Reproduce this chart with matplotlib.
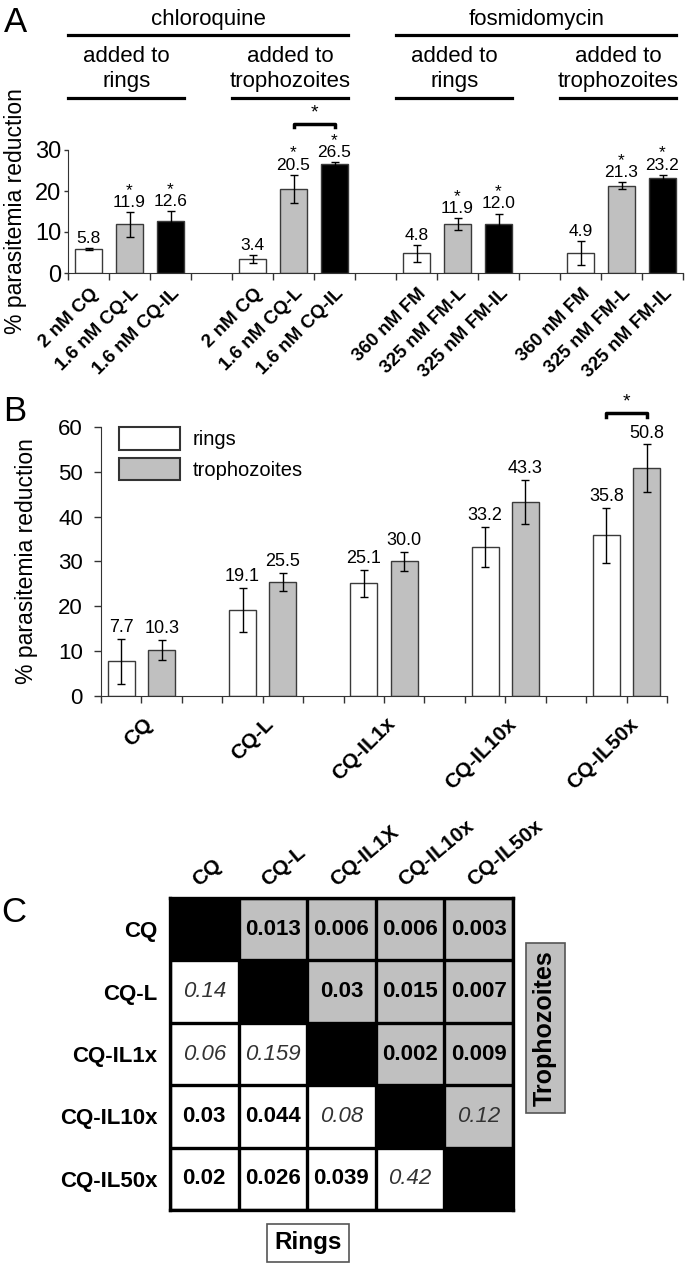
import numpy as np
import matplotlib
matplotlib.use('Agg')
import matplotlib.pyplot as plt
from matplotlib.colors import ListedColormap
from matplotlib.patches import Patch
from matplotlib.transforms import blended_transform_factory, ScaledTranslation

plt.rcParams['font.family'] = ['Liberation Sans', 'DejaVu Sans']

# ---- panel A data ----
a_drugs = ['chloroquine', 'fosmidomycin']
a_stages = ['rings', 'trophozoites', 'rings', 'trophozoites']
a_labels = [['2 nM CQ', '1.6 nM CQ-L', '1.6 nM CQ-IL'],
            ['2 nM CQ', '1.6 nM CQ-L', '1.6 nM CQ-IL'],
            ['360 nM FM', '325 nM FM-L', '325 nM FM-IL'],
            ['360 nM FM', '325 nM FM-L', '325 nM FM-IL']]
a_values = [[5.8, 11.9, 12.6], [3.4, 20.5, 26.5], [4.8, 11.9, 12.0], [4.9, 21.3, 23.2]]
a_errors = [[0.2, 3.0, 2.5], [1.0, 3.5, 0.6], [2.1, 1.5, 2.5], [3.0, 0.8, 0.8]]
a_star = [[False, True, True], [False, True, True], [False, True, True], [False, True, True]]

# ---- panel B data ----
b_groups = ['CQ', 'CQ-L', 'CQ-IL1x', 'CQ-IL10x', 'CQ-IL50x']
b_rings = [7.7, 19.1, 25.1, 33.2, 35.8]
b_rings_err = [5.1, 4.9, 3.0, 4.5, 6.2]
b_troph = [10.3, 25.5, 30.0, 43.3, 50.8]
b_troph_err = [2.3, 2.0, 2.2, 4.9, 5.3]

# ---- panel C data ----
c_rows = ['CQ', 'CQ-L', 'CQ-IL1x', 'CQ-IL10x', 'CQ-IL50x']
c_cols = ['CQ', 'CQ-L', 'CQ-IL1X', 'CQ-IL10x', 'CQ-IL50x']
c_pvals = [['', '0.013', '0.006', '0.006', '0.003'],
           ['0.14', '', '0.03', '0.015', '0.007'],
           ['0.06', '0.159', '', '0.002', '0.009'],
           ['0.03', '0.044', '0.08', '', '0.12'],
           ['0.02', '0.026', '0.039', '0.42', '']]

W, H = 685, 1284
fig = plt.figure(figsize=(W / 100, H / 100), dpi=100)
fills = ['white', '#c0c0c0', 'black']
edge = '#3a3a3a'
err_kw = dict(ecolor='black', elinewidth=1, capsize=3, capthick=1)


def px_axes(l, t, r, b):
    return fig.add_axes([l / W, 1 - b / H, (r - l) / W, (b - t) / H])


def shift_labels(labels, dx_pt):
    for lbl in labels:
        lbl.set_transform(lbl.get_transform() + ScaledTranslation(dx_pt / 72, 0, fig.dpi_scale_trans))


# ================= A =================
axA = px_axes(68, 150, 683, 273)
pos_all, lab_all = [], []
for g in range(4):
    xs = 4 * g + np.arange(3)
    axA.bar(xs, a_values[g], width=0.68, color=fills, edgecolor=edge, linewidth=1,
            yerr=a_errors[g], error_kw=err_kw)
    for x, v, e, s in zip(xs, a_values[g], a_errors[g], a_star[g]):
        txt = f'*\n{v:.1f}' if s else f'{v:.1f}'
        axA.annotate(txt, (x, v + e), xytext=(0, 1.5), textcoords='offset points',
                     ha='center', va='bottom', multialignment='center', linespacing=0.75,
                     fontsize=12.5, annotation_clip=False)
    pos_all += list(xs)
    lab_all += a_labels[g]

axA.set_xlim(-0.5, 14.5)
axA.set_ylim(0, 30)
axA.set_yticks([0, 10, 20, 30])
axA.set_xticks(np.arange(-0.5, 15, 1.0))
axA.set_xticklabels([])
axA.set_xticks(pos_all, minor=True)
axA.set_xticklabels(lab_all, minor=True, rotation=45, ha='right', va='center',
                    rotation_mode='anchor', fontsize=13.5, fontweight='bold')
axA.tick_params(axis='x', which='minor', length=0, pad=13)
axA.tick_params(axis='x', which='major', length=5, width=1, color='#333333')
axA.tick_params(axis='y', length=3, width=1, pad=2, labelsize=17, color='#333333')
shift_labels(axA.get_xticklabels(minor=True), 5)
for sp in ['top', 'right']:
    axA.spines[sp].set_visible(False)
for sp in ['left', 'bottom']:
    axA.spines[sp].set_color('#333333')
axA.set_ylabel('% parasitemia reduction', fontsize=16.5)
axA.yaxis.set_label_coords(-0.066, 0.5)

# significance bracket A
axA.plot([5, 5, 6, 6], [35.5, 36.3, 36.3, 35.5], color='black', lw=2.5, clip_on=False)
axA.text(5.5, 37.0, '*', ha='center', va='bottom', fontsize=14)

# headers above A
trA = blended_transform_factory(axA.transData, fig.transFigure)
for g in range(4):
    x0, x1 = 4 * g - 0.5, 4 * g + 2.34
    axA.plot([x0, x1], [1 - 98 / H] * 2, color='black', lw=2.3, transform=trA, clip_on=False)
    fig.text((x0 + x1) / 2, 1 - 62 / H, 'added to', transform=trA, ha='center',
             va='baseline', fontsize=16)
    fig.text((x0 + x1) / 2, 1 - 87 / H, a_stages[g], transform=trA, ha='center',
             va='baseline', fontsize=16)
for d in range(2):
    x0, x1 = 8 * d - 0.5, 8 * d + 6.34
    axA.plot([x0, x1], [1 - 35 / H] * 2, color='black', lw=2.3, transform=trA, clip_on=False)
    fig.text((x0 + x1) / 2, 1 - 25 / H, a_drugs[d], transform=trA, ha='center',
             va='baseline', fontsize=16)

# ================= B =================
axB = px_axes(101, 427, 667, 696)
xr = 3 * np.arange(5)
xt = xr + 1
axB.bar(xr, b_rings, width=0.67, color='white', edgecolor=edge, linewidth=1,
        yerr=b_rings_err, error_kw=err_kw, label='rings')
axB.bar(xt, b_troph, width=0.67, color='#c0c0c0', edgecolor=edge, linewidth=1,
        yerr=b_troph_err, error_kw=err_kw, label='trophozoites')
for xs, vs, es in [(xr, b_rings, b_rings_err), (xt, b_troph, b_troph_err)]:
    for x, v, e in zip(xs, vs, es):
        axB.annotate(f'{v:.1f}', (x, v + e), xytext=(0, 5), textcoords='offset points',
                     ha='center', va='baseline', fontsize=13, annotation_clip=False)

axB.set_xlim(-0.5, 13.5)
axB.set_ylim(0, 60)
axB.set_yticks(np.arange(0, 61, 10))
axB.xaxis.remove_overlapping_locs = False
axB.set_xticks(np.arange(-0.5, 14, 1.0))
axB.set_xticklabels([])
axB.set_xticks(xr + 0.5, minor=True)
axB.set_xticklabels(b_groups, minor=True, rotation=45, ha='right', va='center',
                    rotation_mode='anchor', fontsize=15, fontweight='bold')
axB.tick_params(axis='x', which='minor', length=0, pad=18)
axB.tick_params(axis='x', which='major', length=5, width=1, color='#333333')
axB.tick_params(axis='y', length=5, width=1, pad=8, labelsize=16, color='#333333')
shift_labels(axB.get_xticklabels(minor=True), 6)
for sp in ['top', 'right']:
    axB.spines[sp].set_visible(False)
for sp in ['left', 'bottom']:
    axB.spines[sp].set_color('#333333')
axB.set_ylabel('% parasitemia reduction', fontsize=16.5)
axB.yaxis.set_label_coords(-0.111, 0.5)

axB.plot([12, 12, 13, 13], [62.3, 63.2, 63.2, 62.3], color='black', lw=2.5, clip_on=False)
axB.text(12.5, 63.6, '*', ha='center', va='bottom', fontsize=14)

axB.legend(handles=[Patch(facecolor='white', edgecolor='#333333', lw=1.5, label='rings'),
                    Patch(facecolor='#c0c0c0', edgecolor='#333333', lw=1.5, label='trophozoites')],
           loc='upper left', bbox_to_anchor=(0.032, 1.0), borderaxespad=0, borderpad=0,
           frameon=False, fontsize=14.5, handlelength=3.0, handleheight=1.35,
           handletextpad=0.65, labelspacing=0.4)

# ================= C =================
axC = px_axes(170, 898, 513, 1210)
n = len(c_rows)
ii, jj = np.indices((n, n))
kind = np.where(ii == jj, 2, np.where(jj > ii, 1, 0))
axC.imshow(kind, cmap=ListedColormap(['white', '#c0c0c0', 'black']), vmin=0, vmax=2,
           aspect='auto', interpolation='nearest')
for i in range(n):
    for j in range(n):
        s = c_pvals[i][j]
        if not s:
            continue
        if float(s) < 0.05:
            axC.text(j, i, s, ha='center', va='center', fontsize=16, fontweight='bold')
        else:
            axC.text(j, i, s, ha='center', va='center', fontsize=16, style='italic',
                     color='#333333')
axC.set_xticks(np.arange(-0.5, n, 1.0), minor=True)
axC.set_yticks(np.arange(-0.5, n, 1.0), minor=True)
axC.grid(which='minor', color='black', lw=2.4)
axC.xaxis.tick_top()
axC.set_xticks(range(n))
axC.set_xticklabels(c_cols, rotation=40, ha='left', va='bottom', rotation_mode='anchor',
                    fontsize=15, fontweight='bold')
axC.set_yticks(range(n))
axC.set_yticklabels(c_rows, fontsize=16, fontweight='bold')
axC.tick_params(which='both', length=0)
axC.tick_params(axis='x', pad=6)
axC.tick_params(axis='y', pad=9)
shift_labels(axC.get_xticklabels(), -2)
for sp in axC.spines.values():
    sp.set_linewidth(2.4)
    sp.set_color('black')

fig.text(308 / W, 1 - 1243 / H, 'Rings', ha='center', va='center', fontsize=17.5,
         fontweight='bold', bbox=dict(boxstyle='square,pad=0.3', fc='white', ec='#555555', lw=1.2))
fig.text(545 / W, 1 - 1028 / H, 'Trophozoites', ha='center', va='center', rotation=90,
         fontsize=18, fontweight='bold',
         bbox=dict(boxstyle='square,pad=0.3', fc='#c0c0c0', ec='#555555', lw=1.2))

# panel letters
fig.text(15 / W, 1 - 23 / H, 'A', ha='center', va='center', fontsize=25)
fig.text(15 / W, 1 - 412 / H, 'B', ha='center', va='center', fontsize=25)
fig.text(14 / W, 1 - 912 / H, 'C', ha='center', va='center', fontsize=25)

fig.savefig('out.png', dpi=100)
